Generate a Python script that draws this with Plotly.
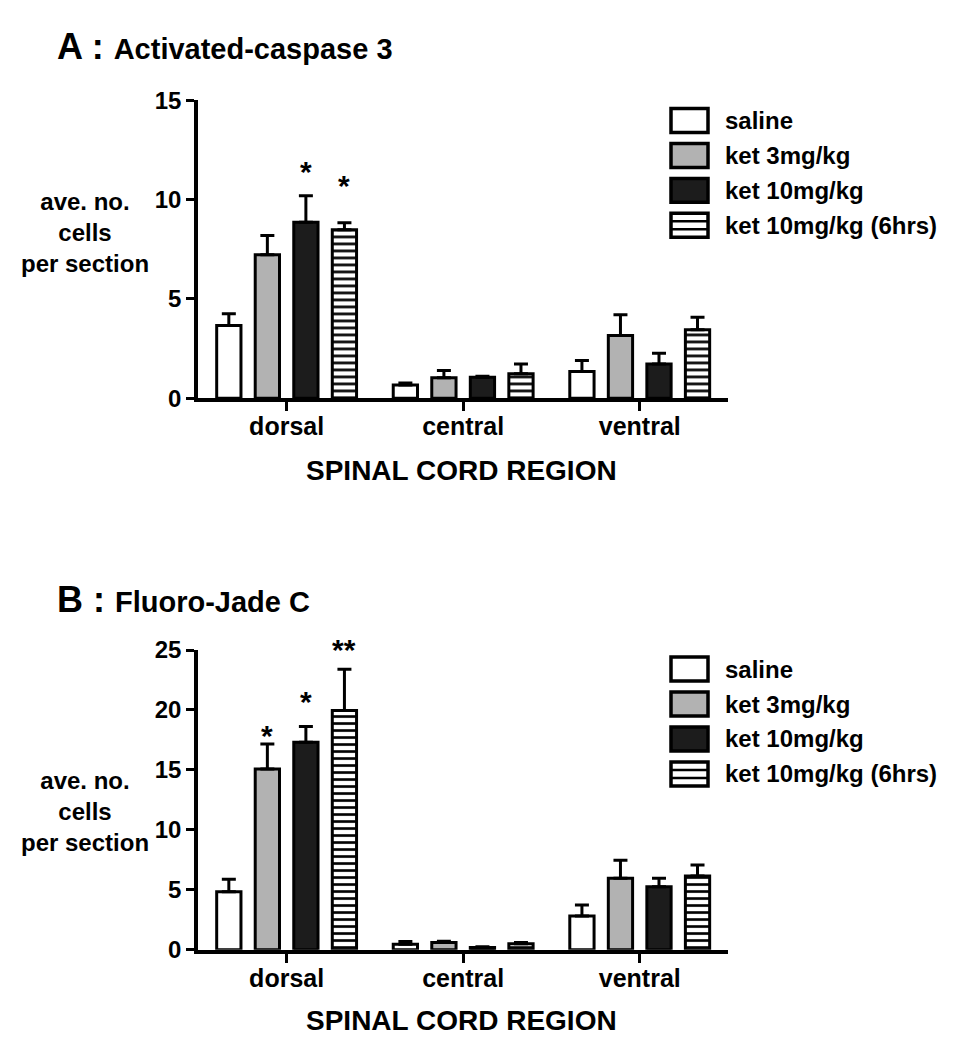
import plotly.graph_objects as go

W, H = 958, 1050

# ---------------- data ----------------
regions = ["dorsal", "central", "ventral"]
series_names = ["saline", "ket 3mg/kg", "ket 10mg/kg", "ket 10mg/kg (6hrs)"]

# Panel A: Activated-caspase 3 (mean, SEM)
A_saline = [3.66, 0.67, 1.34]
A_saline_sem = [0.59, 0.10, 0.56]
A_ket3 = [7.23, 1.03, 3.16]
A_ket3_sem = [0.97, 0.37, 1.04]
A_ket10 = [8.87, 1.06, 1.73]
A_ket10_sem = [1.33, 0.05, 0.54]
A_ket10_6h = [8.49, 1.23, 3.45]
A_ket10_6h_sem = [0.35, 0.50, 0.63]
A_stars = ["", "", "*", "*"]          # dorsal significance marks per series
A_star_y = [0, 0, 11.4, 10.7]

# Panel B: Fluoro-Jade C (mean, SEM)
B_saline = [4.85, 0.47, 2.83]
B_saline_sem = [1.03, 0.22, 0.91]
B_ket3 = [15.08, 0.61, 5.96]
B_ket3_sem = [2.08, 0.11, 1.52]
B_ket10 = [17.30, 0.19, 5.27]
B_ket10_sem = [1.33, 0.06, 0.69]
B_ket10_6h = [19.96, 0.50, 6.15]
B_ket10_6h_sem = [3.43, 0.11, 0.92]
B_stars = ["", "*", "*", "**"]
B_star_y = [0, 17.9, 20.7, 25.05]

A_yticks = [0, 5, 10, 15]
B_yticks = [0, 5, 10, 15, 20, 25]

# ---------------- styling ----------------
FONT = "Liberation Sans, Arial, sans-serif"
fills = ["white", "#b2b2b2", "#1c1c1c", "white"]
patterns = [None, None, None, dict(shape="-", size=7, solidity=0.38,
                                    fgcolor="black", bgcolor="white",
                                    fillmode="replace")]

# page placement (the figure is photographed with a small offset)
OFF_X, OFF_Y, SY = 8.0, 22.5, 0.975

def px_x(x):
    return (x - OFF_X) / W

def px_y(y):
    return 1 - ((y - OFF_Y) / SY) / H

BARGAP = 0.127
NSER = 4
XRANGE = [-0.502, 2.5]

fig = go.Figure()

panels = [
    dict(vals=[A_saline, A_ket3, A_ket10, A_ket10_6h],
         sems=[A_saline_sem, A_ket3_sem, A_ket10_sem, A_ket10_6h_sem],
         stars=A_stars, star_y=A_star_y, xa="x", ya="y", ymax=15),
    dict(vals=[B_saline, B_ket3, B_ket10, B_ket10_6h],
         sems=[B_saline_sem, B_ket3_sem, B_ket10_sem, B_ket10_6h_sem],
         stars=B_stars, star_y=B_star_y, xa="x2", ya="y2", ymax=25),
]

annotations = []
for p in panels:
    for i, name in enumerate(series_names):
        marker = dict(color=fills[i], line=dict(color="black", width=3))
        if patterns[i] is not None:
            marker["pattern"] = patterns[i]
        fig.add_trace(go.Bar(
            x=regions, y=p["vals"][i], name=name, showlegend=False,
            marker=marker, xaxis=p["xa"], yaxis=p["ya"],
            error_y=dict(type="data", array=p["sems"][i],
                         arrayminus=[0] * len(regions), symmetric=False,
                         color="black", thickness=3, width=7),
        ))
        if p["stars"][i]:
            slot = (1 - BARGAP) / NSER
            xoff = -(1 - BARGAP) / 2 + (i + 0.5) * slot
            annotations.append(dict(
                x=0 + xoff, y=p["star_y"][i] / p["ymax"],
                xref=p["xa"], yref=p["ya"] + " domain",
                text="<b>" + p["stars"][i] + "</b>", showarrow=False,
                font=dict(family=FONT, size=30, color="black"),
                xanchor="center", yanchor="middle"))

axis_common = dict(showline=True, linecolor="black", linewidth=3.5,
                   ticks="outside", tickwidth=3, tickcolor="black",
                   showgrid=False, zeroline=False)
ytickfont = dict(family=FONT, size=24, color="black", weight="bold")
xtickfont = dict(family=FONT, size=25, color="black", weight="bold")

xdom = [px_x(198), px_x(728)]
fig.update_layout(
    width=W, height=H, margin=dict(l=0, r=0, t=0, b=0),
    paper_bgcolor="white", plot_bgcolor="white",
    barmode="group", bargap=BARGAP, bargroupgap=0.37,
    xaxis=dict(domain=xdom, anchor="y", type="category",
               categoryorder="array", categoryarray=regions,
               range=XRANGE, ticklen=9, ticklabelstandoff=-6,
               tickfont=xtickfont, **axis_common),
    yaxis=dict(domain=[px_y(399), px_y(101)], anchor="x", range=[0, 15],
               tickvals=A_yticks, ticklen=8, tickfont=ytickfont,
               **axis_common),
    xaxis2=dict(domain=xdom, anchor="y2", type="category",
                categoryorder="array", categoryarray=regions,
                range=XRANGE, ticklen=9, ticklabelstandoff=-6,
                tickfont=xtickfont, **axis_common),
    yaxis2=dict(domain=[px_y(951), px_y(651)], anchor="x2", range=[0, 25],
                tickvals=B_yticks, ticklen=8, tickfont=ytickfont,
                **axis_common),
)

bold = dict(family=FONT, color="black", weight="bold")

titles = [("A", "Activated-caspase 3", 47), ("B", "Fluoro-Jade C", 600)]
for letter, label, yc in titles:
    annotations.append(dict(
        x=px_x(55), y=px_y(yc), xref="paper", yref="paper",
        text=f"<span style='font-size:36px'>{letter} : </span>{label}",
        showarrow=False, xanchor="left", yanchor="middle",
        font=dict(size=29, **bold)))

for yc in [233, 813]:
    annotations.append(dict(
        x=px_x(85), y=px_y(yc), xref="paper", yref="paper",
        text="ave. no.<br>cells<br>per section", showarrow=False,
        xanchor="center", yanchor="middle", align="center",
        font=dict(size=24, **bold)))

for yc in [471, 1022]:
    annotations.append(dict(
        x=px_x(461), y=px_y(yc), xref="paper", yref="paper",
        text="SPINAL CORD REGION", showarrow=False,
        xanchor="center", yanchor="middle",
        font=dict(size=28, **bold)))

shapes = []
for base in [121, 670]:
    for i, name in enumerate(series_names):
        yc = base + 35 * i
        y0, y1 = yc - 12, yc + 12
        shapes.append(dict(type="rect", xref="paper", yref="paper",
                           x0=px_x(671), x1=px_x(708), y0=px_y(y1), y1=px_y(y0),
                           fillcolor=fills[i], line=dict(color="black", width=3.5)))
        if patterns[i] is not None:
            for k in (1, 2):
                ly = y0 + k * (y1 - y0) / 3
                shapes.append(dict(type="line", xref="paper", yref="paper",
                                   x0=px_x(671), x1=px_x(708),
                                   y0=px_y(ly), y1=px_y(ly),
                                   line=dict(color="black", width=2.5)))
        annotations.append(dict(
            x=px_x(723), y=px_y(yc), xref="paper", yref="paper",
            text=name, showarrow=False, xanchor="left", yanchor="middle",
            font=dict(size=24, **bold)))

fig.update_layout(annotations=annotations, shapes=shapes)
fig.write_html("out.html")
